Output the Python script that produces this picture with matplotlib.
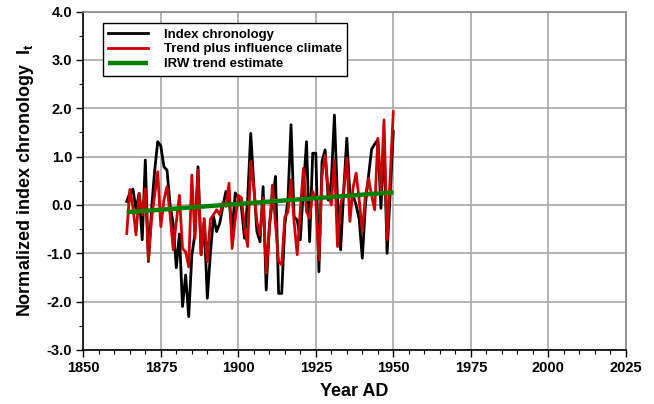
import matplotlib
matplotlib.use("Agg")
import matplotlib.pyplot as plt
import numpy as np

plt.rcParams['font.family'] = ['Liberation Sans', 'DejaVu Sans']
plt.rcParams['mathtext.fontset'] = 'custom'
plt.rcParams['mathtext.bf'] = 'Liberation Sans:bold'
plt.rcParams['mathtext.rm'] = 'Liberation Sans:bold'

years = list(range(1864, 1951))

index_chronology = [
    0.07, 0.25, 0.33, -0.10, 0.24, -0.72, 0.93, -1.17, -0.10, 0.70,
    1.31, 1.22, 0.79, 0.72, 0.00, -0.40, -1.30, -0.60, -2.10, -1.45,
    -2.31, -1.05, -0.60, 0.79, -1.03, -0.35, -1.93, -1.00, -0.24, -0.55,
    -0.38, -0.03, 0.28, 0.10, -0.55, 0.25, 0.15, -0.05, -0.69, 0.10,
    1.48, 0.41, -0.55, -0.76, 0.38, -1.76, -0.45, 0.10, 0.59, -1.83,
    -1.83, -0.41, 0.10, 1.66, -0.25, -0.31, -0.72, 0.35, 1.31, -0.76,
    1.07, 1.07, -1.38, 0.90, 1.14, 0.10, 0.50, 1.86, 0.10, -0.93,
    0.30, 1.38, 0.20, 0.20, 0.00, -0.30, -1.10, 0.00, 0.60, 1.15,
    1.26, 1.35, -0.07, 1.34, -1.00, 0.25, 1.52,
]

trend_plus_climate = [
    -0.59, 0.32, -0.05, -0.62, 0.24, -0.20, 0.34, -1.14, -0.30, 0.20,
    0.69, -0.45, 0.10, 0.38, -0.20, -0.93, -0.35, 0.20, -0.90, -0.97,
    -1.28, 0.62, -0.69, 0.72, -1.03, -0.28, -1.17, -0.30, -0.20, -0.10,
    -0.20, 0.05, -0.03, 0.45, -0.90, -0.30, 0.20, 0.15, -0.45, -0.86,
    0.90, 0.35, -0.35, -0.62, 0.15, -1.41, -0.50, 0.41, -0.40, -1.17,
    -1.24, -0.25, -0.15, 0.52, -0.35, -1.03, -0.10, 0.76, -0.14, -0.28,
    0.28, 0.10, -1.14, 0.60, 1.03, 0.30, 0.00, 0.93, -0.86, 0.00,
    0.30, 0.97, -0.34, 0.35, 0.66, 0.10, -0.55, 0.20, 0.55, 0.20,
    -0.10, 1.38, 0.30, 1.76, -0.72, 0.60, 1.93,
]

trend_years = [1864, 1950]
trend_values = [-0.15, 0.26]

x_ticks = [1850, 1875, 1900, 1925, 1950, 1975, 2000, 2025]
y_ticks = [-3.0, -2.0, -1.0, 0.0, 1.0, 2.0, 3.0, 4.0]

fig = plt.figure(figsize=(6.54, 4.04), dpi=100)
ax = fig.add_axes([0.1274, 0.1337, 0.8295, 0.8376])

ax.plot(years, index_chronology, color='black', lw=2.0, label='Index chronology', zorder=3)
ax.plot(years, trend_plus_climate, color='#cc0000', lw=2.0, label='Trend plus influence climate', zorder=4)
ax.plot(trend_years, trend_values, color='#008000', lw=3.2, label='IRW trend estimate', zorder=5,
        solid_capstyle='butt')

ax.set_xlim(1850, 2025)
ax.set_ylim(-3.0, 4.0)
ax.set_xticks(x_ticks)
ax.set_yticks(y_ticks)
ax.set_xticks(np.arange(1855, 2025, 5), minor=True)
ax.set_yticks(np.arange(-2.5, 4.0, 1.0), minor=True)
ax.set_xticklabels([str(v) for v in x_ticks])
ax.set_yticklabels([f"{v:.1f}" for v in y_ticks])

ax.grid(True, which='major', color='#a8a8a8', lw=1.2, zorder=0)
ax.set_axisbelow(True)

for side in ['left', 'bottom']:
    ax.spines[side].set_color('black')
    ax.spines[side].set_linewidth(1.2)
for side in ['top', 'right']:
    ax.spines[side].set_color('#888888')
    ax.spines[side].set_linewidth(1.2)

ax.tick_params(axis='both', which='major', direction='out', length=5, width=1.0,
               labelsize=10.5, pad=3)
ax.tick_params(axis='both', which='minor', direction='out', length=3, width=0.8)
for lab in ax.get_xticklabels() + ax.get_yticklabels():
    lab.set_fontweight('bold')

ax.set_xlabel('Year AD', fontsize=13, fontweight='bold', labelpad=6)
ax.set_ylabel(r'Normalized index chronology  $\mathbf{I_t}$', fontsize=13, fontweight='bold', labelpad=8)

leg = ax.legend(loc='upper left', bbox_to_anchor=(0.036, 0.966), borderaxespad=0,
                frameon=True, fancybox=False, edgecolor='black', framealpha=1,
                prop={'weight': 'bold', 'size': 9.5}, handlelength=3.0,
                handletextpad=1.2, labelspacing=0.2, borderpad=0.4)
leg.get_frame().set_linewidth(1.0)

fig.savefig('out.png', dpi=100)
